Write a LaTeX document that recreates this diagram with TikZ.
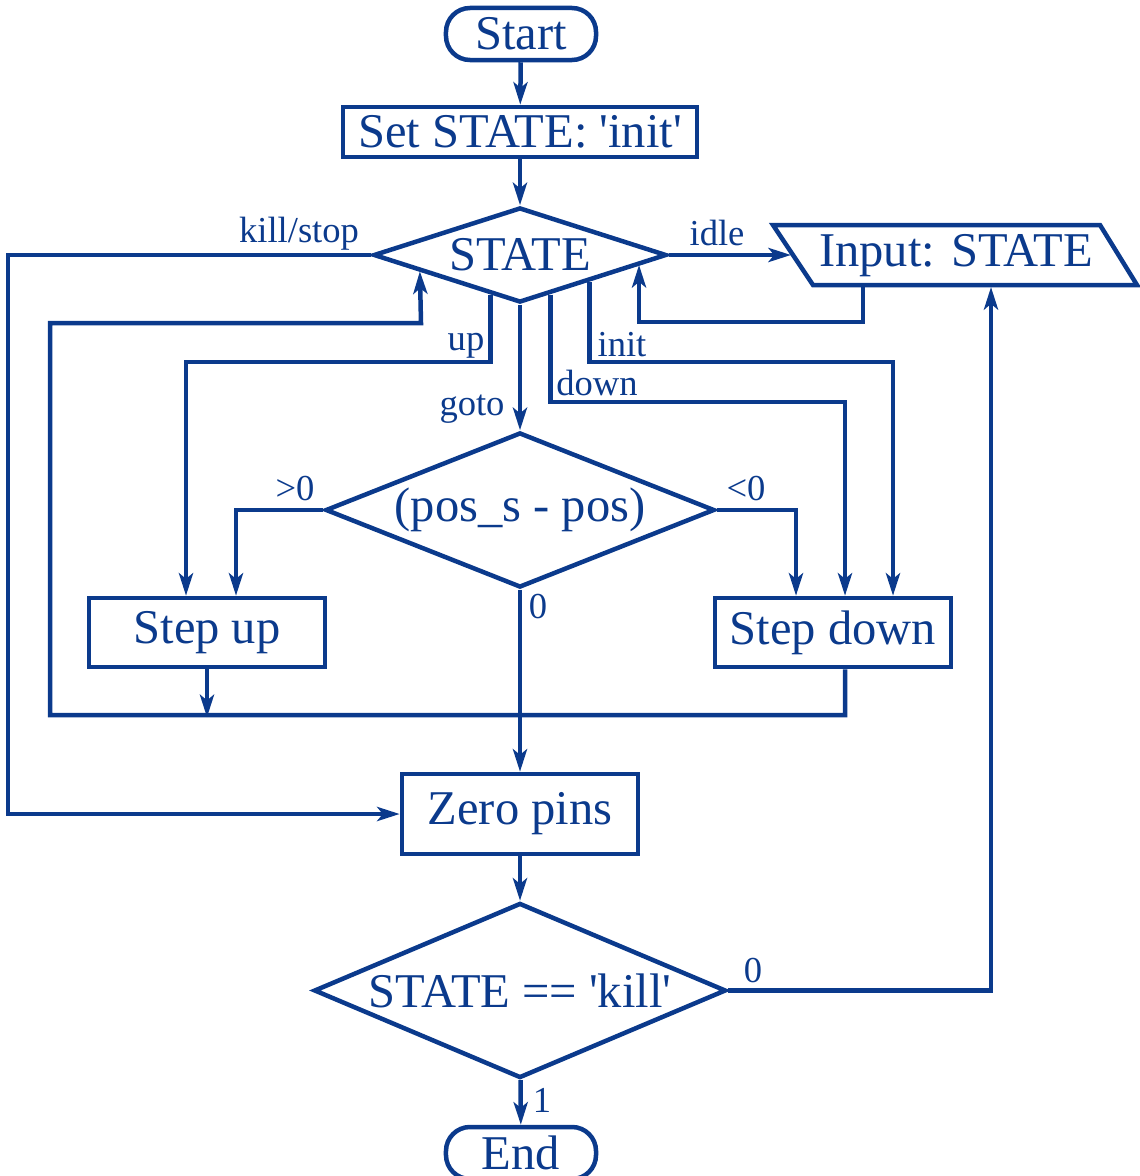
\documentclass[tikz,border=0pt]{standalone}
\usepackage{fontspec}
\setmainfont{Liberation Serif}
\newfontfamily\plainserif{Liberation Serif}
\usetikzlibrary{shapes.geometric,arrows.meta,calc}
\definecolor{fc}{HTML}{0B3A8C}
\newcommand\mainfs{\plainserif\fontsize{34.5}{40}\selectfont}
\newcommand\labfs{\plainserif\fontsize{26}{30}\selectfont}
\begin{document}
\begin{tikzpicture}[x=0.025cm,y=-0.025cm,
  fcline/.style={draw=fc, line width=3.2pt},
  arr/.style={fcline, -{Stealth[length=16pt,width=10pt,inset=4pt]}},
  box/.style={fcline, rectangle, inner sep=0pt, font=\mainfs, text=fc},
  term/.style={box, rounded corners=0.6cm},
  dec/.style={fcline, diamond, inner sep=0pt, font=\mainfs, text=fc},
  lab/.style={font=\labfs, text=fc, inner sep=0pt, anchor=base}]
\useasboundingbox (0,0) rectangle (1139,1176);
% nodes
\node[term, minimum width=3.75cm, minimum height=1.3cm] (start) at (521,34) {Start};
\node[box, minimum width=8.85cm, minimum height=1.25cm] (set) at (520,132) {Set STATE: 'init'};
\node[dec, aspect=3, minimum width=7.325cm, minimum height=2.375cm] (st) at (520,255) {STATE};
\node[text=fc, font=\mainfs, inner sep=0pt] (inp) at (956,256) {Input: STATE};
\draw[fcline] (773,225) -- (1100,225) -- (1137,285) -- (813,285) -- cycle;
\coordinate (inpL) at (791,255);
\coordinate (inpB1) at (863,285);
\coordinate (inpB2) at (991,287);
\node[dec, aspect=2.5, minimum width=9.725cm, minimum height=3.875cm] (pos) at (520,510) {(pos\_s - pos)};
\node[box, minimum width=5.9cm, minimum height=1.725cm] (su) at (207,632.5) {Step up};
\node[box, minimum width=5.9cm, minimum height=1.725cm] (sd) at (833,632.5) {Step down};
\node[box, minimum width=5.9cm, minimum height=2.0cm] (zero) at (520,814) {Zero pins};
\node[dec, aspect=2.35, minimum width=10.3cm, minimum height=4.375cm] (kill) at (520,990.5) {STATE == 'kill'};
\node[term, minimum width=3.75cm, minimum height=1.3cm] (end) at (521,1153) {End};
% connectors
\draw[arr] (start) -- (set);
\draw[arr] (set) -- (st);
\draw[arr] (st.west) -- ++(-363,0) |- (zero.west);
\draw[arr] (st.east) -- (inpL);
\draw[arr] (inpB1) -- ++(0,37) -| ($(st.east)!0.2!(st.south)$);
\draw[arr] ($(st.east)!0.534!(st.south)$) |- (893,362) -- ($(sd.north)+(60,0)$);
\draw[arr] ($(st.east)!0.795!(st.south)$) |- (845,402) -- ($(sd.north)+(12,0)$);
\draw[arr] ($(st.south)!0.197!(st.west)$) |- (186,362) -- ($(su.north)+(-21,0)$);
\draw[arr] (st.south) -- (pos.north);
\draw[arr] (pos.west) -| ($(su.north)+(29,0)$);
\draw[arr] (pos.east) -| ($(sd.north)+(-37,0)$);
\draw[arr] (pos.south) -- (zero.north);
\draw[arr] (su.south) -- ++(0,48);
\draw[arr] ($(sd.south)+(12,0)$) |- (50,715) |- (421,323) -- ($(st.west)!0.327!(st.south)$);
\draw[arr] (zero) -- (kill);
\draw[arr] (kill.east) -| (inpB2);
\draw[arr] (kill) -- (end);
% labels
\node[lab] (lkill) at (299,242) {kill/stop};
\node[lab] (lidle) at (717,245) {idle};
\node[lab] (lup) at (466,350) {up};
\node[lab] (linit) at (622,356) {init};
\node[lab] (ldown) at (597,395) {down};
\node[lab] (lgoto) at (472,415) {goto};
\node[lab] (lgt) at (295,500) {>0};
\node[lab] (llt) at (746,500) {<0};
\node[lab] (lz1) at (538,618) {0};
\node[lab] (lz2) at (753,982) {0};
\node[lab] (lone) at (542,1112) {1};
\end{tikzpicture}
\end{document}
